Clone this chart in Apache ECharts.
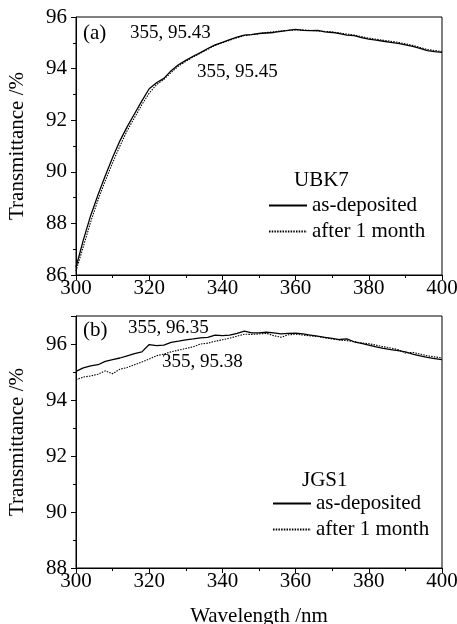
<!DOCTYPE html>
<html>
<head>
<meta charset="utf-8">
<script src="https://cdn.jsdelivr.net/npm/echarts@6/dist/echarts.min.js"></script>
<style>
html,body{margin:0;padding:0;background:#fff;}
#chart{width:457px;height:624px;}
</style>
</head>
<body>
<div id="chart"></div>
<script>
// wavelength, nm
var wavelength = [300,302,304,306,308,310,312,314,316,318,320,322,324,326,328,330,332,334,336,338,340,
	342,344,346,348,350,352,354,356,358,360,362,364,366,368,370,372,374,376,378,380,
	382,384,386,388,390,392,394,396,398,400];

// (a) UBK7
var ubkDeposited = [86.30,87.35,88.30,89.10,89.85,90.55,91.20,91.75,92.25,92.75,93.22,
	93.45,93.62,93.92,94.15,94.32,94.48,94.62,94.78,94.92,95.02,
	95.12,95.22,95.30,95.32,95.36,95.38,95.40,95.44,95.48,95.52,
	95.48,95.47,95.48,95.42,95.40,95.36,95.30,95.28,95.20,95.14,
	95.10,95.06,95.02,94.98,94.92,94.86,94.78,94.70,94.66,94.63];
var ubkMonth = [86.15,87.10,88.05,88.90,89.65,90.35,91.00,91.60,92.10,92.60,93.05,
	93.38,93.58,93.85,94.10,94.28,94.45,94.60,94.75,94.90,95.00,
	95.10,95.20,95.28,95.32,95.36,95.40,95.43,95.46,95.48,95.50,
	95.50,95.48,95.46,95.44,95.42,95.38,95.34,95.30,95.24,95.18,
	95.14,95.10,95.06,95.02,94.96,94.90,94.82,94.74,94.70,94.66];

// (b) JGS1
var jgsDeposited = [95.02,95.15,95.22,95.26,95.38,95.44,95.50,95.58,95.66,95.72,95.98,
	95.94,95.96,96.06,96.10,96.15,96.18,96.22,96.24,96.32,96.30,
	96.32,96.38,96.46,96.40,96.40,96.42,96.40,96.36,96.38,96.39,
	96.36,96.32,96.28,96.24,96.20,96.16,96.18,96.08,96.02,95.96,
	95.90,95.84,95.80,95.76,95.72,95.64,95.58,95.52,95.48,95.44];
var jgsMonth = [94.72,94.82,94.86,94.92,95.04,94.94,95.10,95.16,95.26,95.36,95.46,
	95.58,95.64,95.72,95.78,95.84,95.90,96.00,96.03,96.10,96.15,
	96.21,96.28,96.35,96.34,96.36,96.38,96.30,96.24,96.33,96.35,
	96.32,96.29,96.27,96.22,96.18,96.14,96.12,96.08,96.04,96.01,
	95.96,95.90,95.86,95.80,95.68,95.70,95.64,95.58,95.54,95.50];

var seriesNames = ['as-deposited','after 1 month'];
var font = 'Liberation Serif';

function pairs(ys){
	return wavelength.map(function(w,i){ return [w, ys[i]]; });
}

function xAxis(idx, name){
	return {
		type:'value', gridIndex:idx, min:300, max:400, interval:20,
		name:name, nameLocation:'middle', nameGap:38,
		nameTextStyle:{color:'#000', fontFamily:font, fontSize:21},
		axisLine:{onZero:false, lineStyle:{color:'#000', width:1}},
		axisTick:{length:5, lineStyle:{color:'#000'}},
		minorTick:{show:true, splitNumber:2, length:3, lineStyle:{color:'#000'}},
		splitLine:{show:false},
		axisLabel:{color:'#000', fontFamily:font, fontSize:21, margin:3}
	};
}
function yAxis(idx, min, max){
	return {
		type:'value', gridIndex:idx, min:min, max:max, interval:2,
		name:'Transmittance /%', nameLocation:'middle', nameGap:48,
		nameTextStyle:{color:'#000', fontFamily:font, fontSize:21},
		axisLine:{onZero:false, lineStyle:{color:'#000', width:1}},
		axisTick:{length:5, lineStyle:{color:'#000'}},
		minorTick:{show:true, splitNumber:2, length:3, lineStyle:{color:'#000'}},
		splitLine:{show:false},
		axisLabel:{color:'#000', fontFamily:font, fontSize:21, margin:9, showMaxLabel: max % 2 === 0}
	};
}
function line(name, idx, ys){
	var dotted = name === seriesNames[1];
	return {
		name:name, type:'line', xAxisIndex:idx, yAxisIndex:idx,
		data:pairs(ys), showSymbol:false, symbol:'none',
		lineStyle:{color:'#000', width:dotted ? 1.1 : 1.3, type:dotted ? [1.5,1.2] : 'solid'},
		itemStyle:{color:'#000'}
	};
}
function legend(left, top){
	return {
		orient:'vertical', left:left, top:top, padding:0,
		itemWidth:38, itemHeight:14, itemGap:5, selectedMode:false,
		data:seriesNames,
		itemStyle:{color:'rgba(0,0,0,0)', borderWidth:0, opacity:0},
		textStyle:{color:'#000', fontFamily:font, fontSize:21, lineHeight:20}
	};
}
function label(x, y, text, size){
	return {type:'text', x:x, y:y, style:{text:text, fill:'#000', font:size+'px "'+font+'"', textVerticalAlign:'middle'}};
}

var myChart = echarts.init(document.getElementById('chart'));
var option = {
	animation:false,
	backgroundColor:'#fff',
	grid:[
		{left:76, top:17, width:366, height:258, show:true, borderColor:'#000', borderWidth:1, outerBoundsMode:'none', containLabel:false},
		{left:76, top:316, width:366, height:252, show:true, borderColor:'#000', borderWidth:1, outerBoundsMode:'none', containLabel:false}
	],
	xAxis:[xAxis(0, ''), xAxis(1, 'Wavelength /nm')],
	yAxis:[yAxis(0, 86, 96), yAxis(1, 88, 97)],
	legend:[legend(268, 195), legend(272, 493)],
	series:[
		line(seriesNames[0], 0, ubkDeposited),
		line(seriesNames[1], 0, ubkMonth),
		line(seriesNames[0], 1, jgsDeposited),
		line(seriesNames[1], 1, jgsMonth)
	],
	graphic:[
		label(83, 33, '(a)', 21),
		label(130, 33, '355, 95.43', 19),
		label(197, 72, '355, 95.45', 19),
		label(294, 180, 'UBK7', 21),
		label(83, 330, '(b)', 21),
		label(128, 328, '355, 96.35', 19),
		label(162, 362, '355, 95.38', 19),
		label(302, 480, 'JGS1', 21)
	]
};
myChart.setOption(option);
</script>
</body>
</html>
